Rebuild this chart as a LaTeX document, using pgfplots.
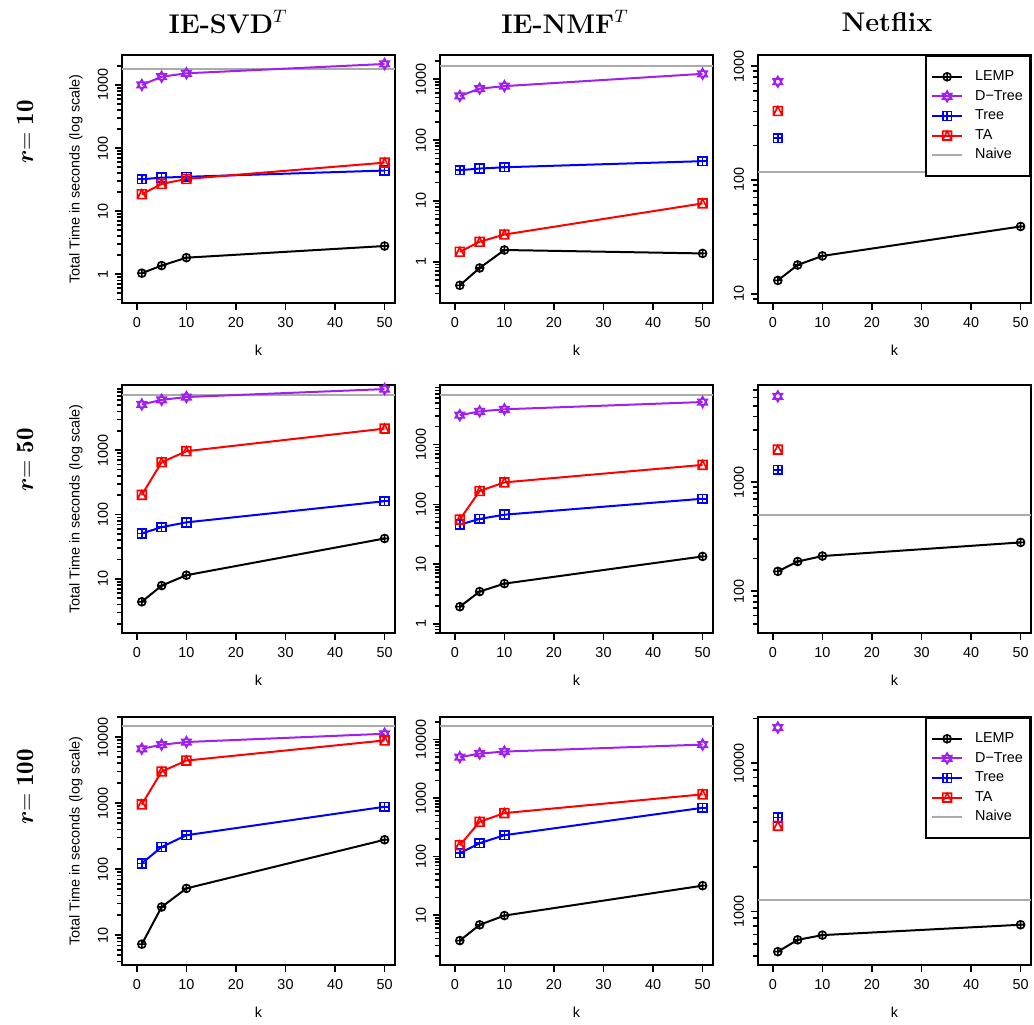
\documentclass[border=0pt]{standalone}
\usepackage{amsmath}
\usepackage{pgfplots}
\pgfplotsset{compat=1.18}
\usepackage{fontspec}
\newfontfamily\hv{Liberation Sans}
\definecolor{rpurple}{RGB}{160,32,240}
\definecolor{naivegray}{RGB}{170,170,170}

\pgfdeclareplotmark{boxplusR}{%
  \pgfpathrectangle{\pgfpoint{-\pgfplotmarksize}{-\pgfplotmarksize}}{\pgfpoint{2\pgfplotmarksize}{2\pgfplotmarksize}}%
  \pgfpathmoveto{\pgfpoint{-\pgfplotmarksize}{0pt}}\pgfpathlineto{\pgfpoint{\pgfplotmarksize}{0pt}}%
  \pgfpathmoveto{\pgfpoint{0pt}{-\pgfplotmarksize}}\pgfpathlineto{\pgfpoint{0pt}{\pgfplotmarksize}}%
  \pgfusepathqstroke}
\pgfdeclareplotmark{boxtriR}{%
  \pgfpathrectangle{\pgfpoint{-\pgfplotmarksize}{-\pgfplotmarksize}}{\pgfpoint{2\pgfplotmarksize}{2\pgfplotmarksize}}%
  \pgfpathmoveto{\pgfpoint{-\pgfplotmarksize}{-\pgfplotmarksize}}\pgfpathlineto{\pgfpoint{0pt}{\pgfplotmarksize}}%
  \pgfpathlineto{\pgfpoint{\pgfplotmarksize}{-\pgfplotmarksize}}%
  \pgfusepathqstroke}
\pgfdeclareplotmark{davidR}{%
  \pgfpathmoveto{\pgfpoint{0pt}{\pgfplotmarksize}}%
  \pgfpathlineto{\pgfpoint{-0.866\pgfplotmarksize}{-0.5\pgfplotmarksize}}%
  \pgfpathlineto{\pgfpoint{0.866\pgfplotmarksize}{-0.5\pgfplotmarksize}}%
  \pgfpathclose
  \pgfpathmoveto{\pgfpoint{0pt}{-\pgfplotmarksize}}%
  \pgfpathlineto{\pgfpoint{-0.866\pgfplotmarksize}{0.5\pgfplotmarksize}}%
  \pgfpathlineto{\pgfpoint{0.866\pgfplotmarksize}{0.5\pgfplotmarksize}}%
  \pgfpathclose
  \pgfusepathqstroke}

\newcommand{\hvs}{\hv\fontsize{7.2}{8.6}\selectfont}
\newcommand{\rlab}[1]{$\boldsymbol{r}\mathbf{=#1}$}

\tikzset{
  sLEMP/.style={black, line width=1pt, mark=oplus, mark size=2pt, mark options={line width=0.8pt}},
  sDTREE/.style={rpurple, line width=1pt, mark=davidR, mark size=2.7pt, mark options={line width=0.8pt}},
  sTREE/.style={blue, line width=1pt, mark=boxplusR, mark size=2.2pt, mark options={line width=0.8pt}},
  sTA/.style={red, line width=1pt, mark=boxtriR, mark size=2.2pt, mark options={line width=0.8pt}},
  sNAIVE/.style={naivegray, line width=1pt},
}

\pgfplotsset{
  every axis/.append style={
    scale only axis, width=136.5pt, height=124pt,
    xmin=-3, xmax=52.1, anchor=south west,
    axis line style={line width=1pt},
    tick align=outside, xtick pos=left, ytick pos=left,
    xtick={0,10,20,30,40,50}, xticklabels={0,10,20,30,40,50},
    minor ytick={0.2,0.3,0.4,0.5,0.6,0.7,0.8,0.9,2,3,4,5,6,7,8,9,20,30,40,50,60,70,80,90,200,300,400,500,600,700,800,900,2000,3000,4000,5000,6000,7000,8000,9000,20000,30000,40000,50000,60000,70000,80000,90000},
    major tick length=3.5pt, minor tick length=2.5pt,
    every tick/.style={black, line width=0.8pt},
    tick label style={font=\hvs},
    label style={font=\hvs},
    yticklabel style={rotate=90, anchor=south},
    xlabel={k},
    xlabel style={at={(axis description cs:0.5,-0.19)}, anchor=center},
    legend style={at={(axis description cs:1,1)}, anchor=north east, draw=black, line width=1pt,
      font=\hvs, inner xsep=2.5pt, inner ysep=5.5pt,
      nodes={inner ysep=1.5pt, inner xsep=1pt, text height=5.3pt, text depth=1.5pt},
      /tikz/every odd column/.append style={column sep=5pt}},
    legend cell align=left,
  },
  legend image code/.code={\draw[mark repeat=2,mark phase=2,#1] plot coordinates {(0pt,0pt)(7.5pt,0pt)(15pt,0pt)};},
}

\begin{document}
\begin{tikzpicture}
\useasboundingbox (0,0) rectangle (517pt,512pt);

% titles
\node[font=\fontsize{13.5}{16}\selectfont] at (114pt,501pt) {\textbf{IE-SVD}$^{T}$};
\node[font=\fontsize{13.5}{16}\selectfont] at (282.5pt,501pt) {\textbf{IE-NMF}$^{T}$};
\node[font=\fontsize{13.5}{16}\selectfont] at (443.5pt,501pt) {\textbf{Netflix}};
\node[rotate=90, font=\fontsize{12.5}{15}\selectfont] at (12.5pt,446pt) {\rlab{10}};
\node[rotate=90, font=\fontsize{12.5}{15}\selectfont] at (12.5pt,282pt) {\rlab{50}};
\node[rotate=90, font=\fontsize{12.5}{15}\selectfont] at (12.5pt,118.5pt) {\rlab{100}};

% ---------- row 1 ----------
\begin{axis}[ymode=log, at={(61pt,360.5pt)}, ymin=0.35, ymax=2985,
  ylabel={Total Time in seconds (log scale)},
  ylabel style={at={(axis description cs:-0.1685,0.5)}, anchor=center},
  ytick={1,10,100,1000}, yticklabels={1,10,100,1000}]
\addplot[sNAIVE] coordinates {(-3,1800)(52.1,1800)};
\addplot[sLEMP] coordinates {(1,1.04)(5,1.37)(10,1.83)(50,2.8)};
\addplot[sDTREE] coordinates {(1,1000)(5,1350)(10,1530)(50,2150)};
\addplot[sTREE] coordinates {(1,32)(5,34)(10,35)(50,44)};
\addplot[sTA] coordinates {(1,18.5)(5,27)(10,32.4)(50,58.7)};
\end{axis}

\begin{axis}[ymode=log, at={(220pt,360.5pt)}, ymin=0.21, ymax=2500,
  ytick={1,10,100,1000}, yticklabels={1,10,100,1000}]
\addplot[sNAIVE] coordinates {(-3,1650)(52.1,1650)};
\addplot[sLEMP] coordinates {(1,0.41)(5,0.79)(10,1.56)(50,1.37)};
\addplot[sDTREE] coordinates {(1,530)(5,700)(10,770)(50,1225)};
\addplot[sTREE] coordinates {(1,32)(5,34)(10,35.7)(50,45)};
\addplot[sTA] coordinates {(1,1.46)(5,2.13)(10,2.8)(50,9.1)};
\end{axis}

\begin{axis}[ymode=log, at={(379pt,360.5pt)}, ymin=8.3, ymax=1250,
  ytick={10,100,1000}, yticklabels={10,100,1000}]
\addplot[sLEMP] coordinates {(1,13.1)(5,17.9)(10,21.5)(50,39)};
\addlegendentry{LEMP}
\addplot[sDTREE] coordinates {(1,728)};
\addlegendentry{D−Tree}
\addplot[sTREE] coordinates {(1,232)};
\addlegendentry{Tree}
\addplot[sTA] coordinates {(1,403)};
\addlegendentry{TA}
\addplot[sNAIVE] coordinates {(-3,117)(52.1,117)};
\addlegendentry{Naive}
\end{axis}

% ---------- row 2 ----------
\begin{axis}[ymode=log, at={(61pt,195.5pt)}, ymin=1.44, ymax=10300,
  ylabel={Total Time in seconds (log scale)},
  ylabel style={at={(axis description cs:-0.1685,0.5)}, anchor=center},
  ytick={10,100,1000}, yticklabels={10,100,1000}]
\addplot[sNAIVE] coordinates {(-3,7300)(52.1,7300)};
\addplot[sLEMP] coordinates {(1,4.4)(5,7.85)(10,11.4)(50,42.4)};
\addplot[sDTREE] coordinates {(1,5130)(5,6050)(10,6700)(50,8900)};
\addplot[sTREE] coordinates {(1,50.7)(5,63.7)(10,75.5)(50,161)};
\addplot[sTA] coordinates {(1,202)(5,649)(10,964)(50,2163)};
\end{axis}

\begin{axis}[ymode=log, at={(220pt,195.5pt)}, ymin=0.70, ymax=9950,
  ytick={1,10,100,1000}, yticklabels={1,10,100,1000}]
\addplot[sNAIVE] coordinates {(-3,6800)(52.1,6800)};
\addplot[sLEMP] coordinates {(1,1.93)(5,3.46)(10,4.7)(50,13.4)};
\addplot[sDTREE] coordinates {(1,3100)(5,3600)(10,3900)(50,5160)};
\addplot[sTREE] coordinates {(1,45.7)(5,57)(10,67)(50,124)};
\addplot[sTA] coordinates {(1,55.5)(5,167)(10,233)(50,457)};
\end{axis}

\begin{axis}[ymode=log, at={(379pt,195.5pt)}, ymin=41.3, ymax=7800,
  ytick={100,1000}, yticklabels={100,1000}]
\addplot[sNAIVE] coordinates {(-3,500)(52.1,500)};
\addplot[sLEMP] coordinates {(1,152)(5,187)(10,210)(50,280)};
\addplot[sDTREE] coordinates {(1,6140)};
\addplot[sTREE] coordinates {(1,1300)};
\addplot[sTA] coordinates {(1,1990)};
\end{axis}

% ---------- row 3 ----------
\begin{axis}[ymode=log, at={(61pt,29.5pt)}, ymin=3.53, ymax=20100,
  ylabel={Total Time in seconds (log scale)},
  ylabel style={at={(axis description cs:-0.1685,0.5)}, anchor=center},
  ytick={10,100,1000,10000}, yticklabels={10,100,1000,10000}]
\addplot[sNAIVE] coordinates {(-3,14700)(52.1,14700)};
\addplot[sLEMP] coordinates {(1,7.3)(5,26.7)(10,51)(50,278)};
\addplot[sDTREE] coordinates {(1,6640)(5,7640)(10,8400)(50,11200)};
\addplot[sTREE] coordinates {(1,122)(5,216)(10,326)(50,879)};
\addplot[sTA] coordinates {(1,955)(5,3000)(10,4400)(50,8880)};
\end{axis}

\begin{axis}[ymode=log, at={(220pt,29.5pt)}, ymin=1.4, ymax=24300,
  ytick={10,100,1000,10000}, yticklabels={10,100,1000,10000}]
\addplot[sNAIVE] coordinates {(-3,17000)(52.1,17000)};
\addplot[sLEMP] coordinates {(1,3.66)(5,6.8)(10,9.8)(50,31.8)};
\addplot[sDTREE] coordinates {(1,4990)(5,5760)(10,6230)(50,8200)};
\addplot[sTREE] coordinates {(1,114)(5,169)(10,232)(50,681)};
\addplot[sTA] coordinates {(1,156)(5,393)(10,553)(50,1158)};
\end{axis}

\begin{axis}[ymode=log, at={(379pt,29.5pt)}, ymin=435, ymax=20500,
  ytick={1000,10000}, yticklabels={1000,10000}]
\addplot[sLEMP] coordinates {(1,535)(5,643)(10,692)(50,813)};
\addlegendentry{LEMP}
\addplot[sDTREE] coordinates {(1,17400)};
\addlegendentry{D−Tree}
\addplot[sTREE] coordinates {(1,4300)};
\addlegendentry{Tree}
\addplot[sTA] coordinates {(1,3780)};
\addlegendentry{TA}
\addplot[sNAIVE] coordinates {(-3,1188)(52.1,1188)};
\addlegendentry{Naive}
\end{axis}
\end{tikzpicture}
\end{document}
